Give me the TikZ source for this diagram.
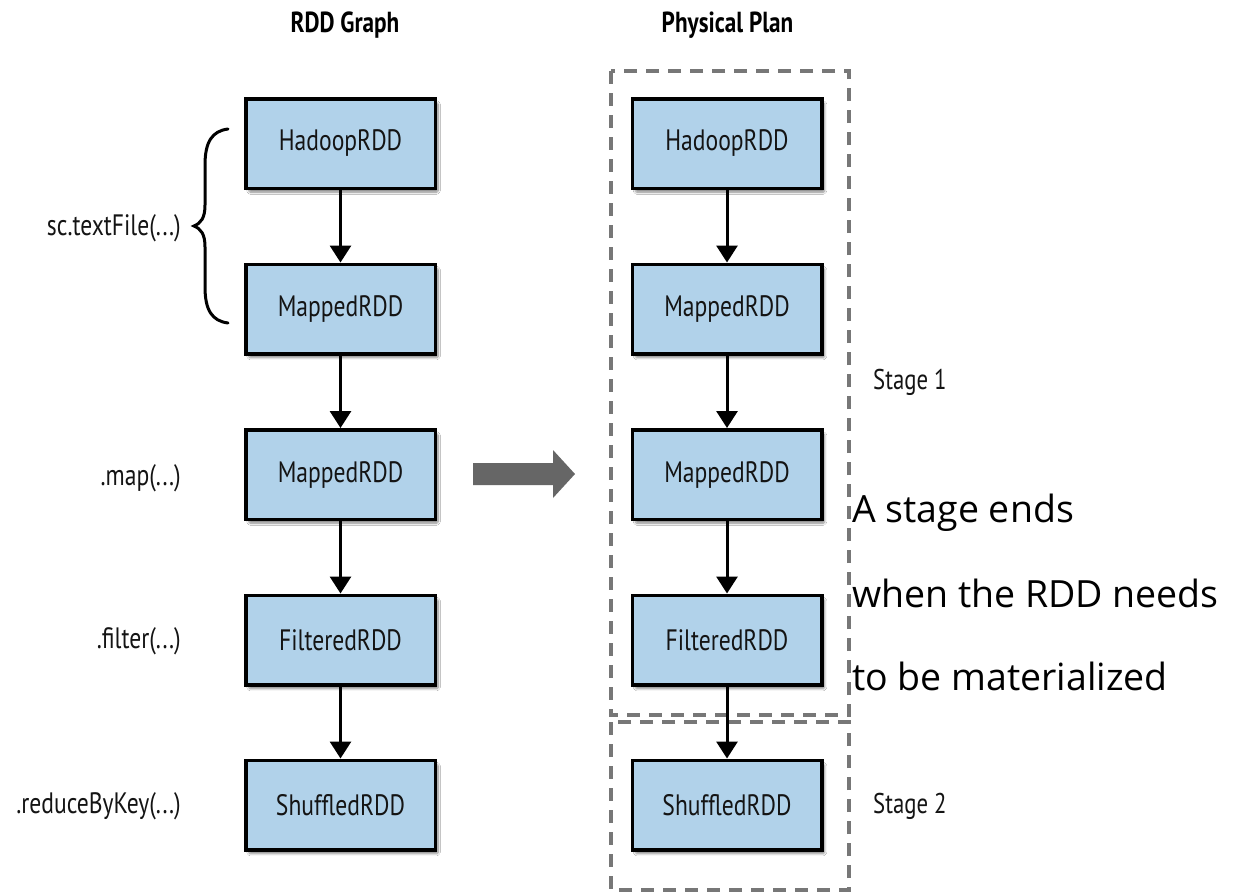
\documentclass[tikz,border=0pt]{standalone}
\usepackage{fontspec}
\setmainfont{PT Sans}[FakeStretch=0.8]
\newfontfamily\notefont{Open Sans}
\usetikzlibrary{arrows.meta,shadows.blur}
\definecolor{boxblue}{HTML}{B1D2EA}
\definecolor{textdark}{HTML}{141414}
\definecolor{stagegray}{HTML}{777777}
\definecolor{bigarrow}{HTML}{666666}
\tikzset{
  rdd/.style={draw=black, line width=3.5pt, fill=boxblue, minimum width=189.5pt,
    minimum height=89.5pt, inner sep=0pt, text=textdark,
    font=\fontsize{29.5}{32}\selectfont,
    blur shadow={shadow xshift=3pt, shadow yshift=-4pt, shadow blur steps=6,
      shadow blur extra rounding=1.5pt, shadow opacity=45}},
  flow/.style={line width=3pt, draw=black, -{Triangle[width=21pt,length=17pt]}},
  stagebox/.style={draw=stagegray, line width=3.2pt, dash pattern=on 13pt off 9pt},
  oplabel/.style={anchor=base east, text=textdark, inner sep=0pt,
    font=\fontsize{29.5}{32}\selectfont},
  stagelabel/.style={anchor=base west, text=textdark, inner sep=0pt,
    font=\fontsize{28.5}{32}\selectfont},
  title/.style={anchor=base, text=black, inner sep=0pt,
    font=\fontsize{29}{32}\selectfont\bfseries},
  note/.style={anchor=base west, text=black, inner sep=0pt,
    font=\notefont\fontsize{37.5}{42}\selectfont}
}
\begin{document}
\begin{tikzpicture}[x=1pt, y=-1pt]
\useasboundingbox[fill=white] (0,0) rectangle (1239,892);

% column titles
\node[title] (t1) at (345,32) {RDD Graph};
\node[title] (t2) at (727.5,32) {Physical Plan};

% stage frames
\draw[stagebox] (611,71) rectangle (849,715);
\draw[stagebox] (611,722) rectangle (849,890);

% RDD graph column
\node[rdd] (l1) at (340.5,143.5) {HadoopRDD};
\node[rdd] (l2) at (340.5,309) {MappedRDD};
\node[rdd] (l3) at (340.5,474.5) {MappedRDD};
\node[rdd] (l4) at (340.5,640) {FilteredRDD};
\node[rdd] (l5) at (340.5,805) {ShuffledRDD};

% physical plan column
\node[rdd] (r1) at (727,143.5) {HadoopRDD};
\node[rdd] (r2) at (727,309) {MappedRDD};
\node[rdd] (r3) at (727,474.5) {MappedRDD};
\node[rdd] (r4) at (727,640) {FilteredRDD};
\node[rdd] (r5) at (727,805) {ShuffledRDD};

\foreach \a/\b in {l1/l2,l2/l3,l3/l4,l4/l5,r1/r2,r2/r3,r3/r4,r4/r5}
  \draw[flow] (\a.south) -- (\b.north);

% operations
\node[oplabel] (op1) at (181,235) {sc.textFile(...)};
\node[oplabel] (op2) at (181,485) {.map(...)};
\node[oplabel] (op3) at (181,648) {.filter(...)};
\node[oplabel] (op4) at (181,813) {.reduceByKey(...)};

% brace grouping the first two RDDs
\draw[line width=3pt, line cap=round]
  (228,129) .. controls (212,131) and (205,142) .. (205,165)
  -- (205,205) .. controls (205,218) and (201,223) .. (194,226)
  .. controls (201,229) and (205,234) .. (205,247)
  -- (205,287) .. controls (205,310) and (212,321) .. (228,323);

% transformation arrow
\fill[bigarrow] (473,463) -- (553,463) -- (553,450) -- (575,474) -- (553,498)
  -- (553,485) -- (473,485) -- cycle;

% stage labels
\node[stagelabel] (s1) at (873,389) {Stage 1};
\node[stagelabel] (s2) at (873,813) {Stage 2};

% note on stage boundaries
\node[note] (n1) at (852,522) {A stage ends};
\node[note] (n2) at (852,607) {when the RDD needs};
\node[note] (n3) at (852,690) {to be materialized};
\end{tikzpicture}
\end{document}
